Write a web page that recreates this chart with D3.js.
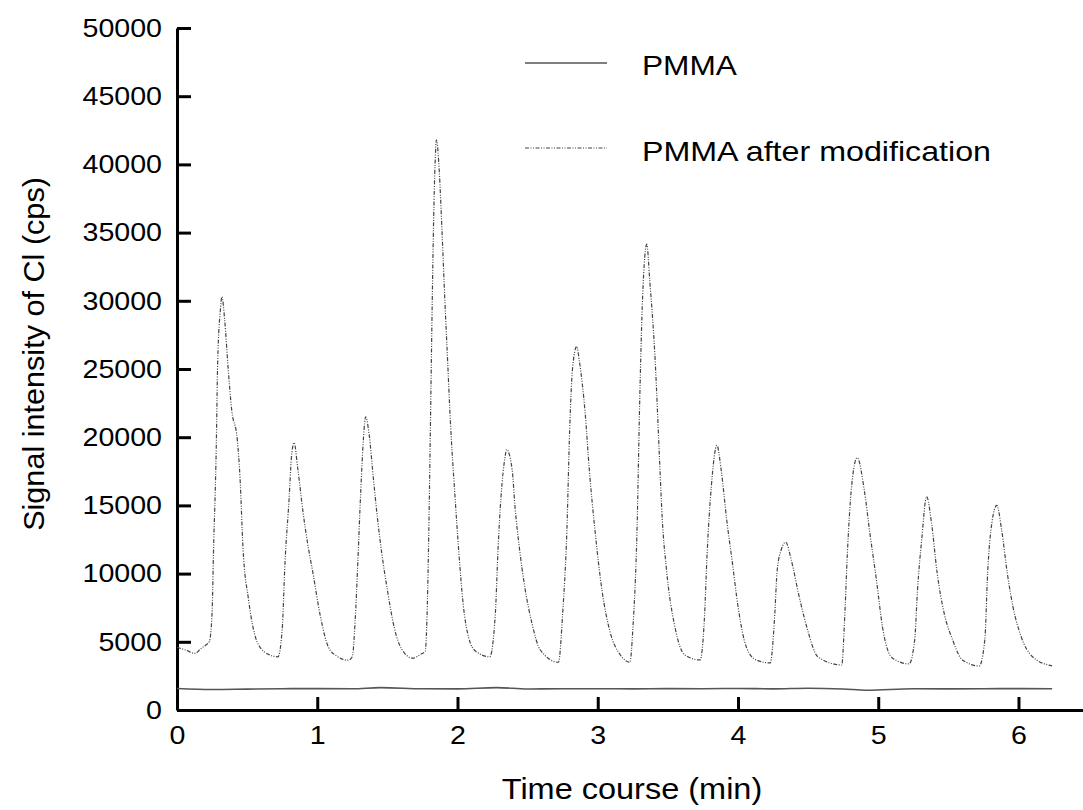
<!DOCTYPE html>
<html>
<head>
<meta charset="utf-8">
<script src="https://cdn.jsdelivr.net/npm/d3@7"></script>
<style>
  body { margin: 0; background: #fff; }
  text { font-family: "Liberation Sans", Arial, sans-serif; fill: #000; }
</style>
</head>
<body>
<div id="chart"></div>
<script>
var width = 1083;
var height = 810;

// PMMA (plain) - flat baseline
var pmmaTime = [0, 0.25, 0.5, 0.75, 1, 1.25, 1.45, 1.75, 2, 2.28, 2.5, 2.75, 3, 3.25, 3.5, 3.75, 4, 4.25, 4.5, 4.75, 4.92, 5.25, 5.5, 5.75, 6, 6.24];
var pmmaSignal = [1580, 1500, 1530, 1560, 1570, 1560, 1640, 1560, 1550, 1640, 1540, 1560, 1560, 1550, 1570, 1560, 1580, 1550, 1600, 1540, 1450, 1560, 1550, 1560, 1570, 1560];

// PMMA after modification
var modTime = [0, 0.06, 0.13, 0.17, 0.21, 0.23, 0.25, 0.26, 0.28, 0.29, 0.31, 0.32, 0.34, 0.365, 0.39, 0.43, 0.45, 0.47, 0.51, 0.58, 0.66, 0.72,
  0.75, 0.77, 0.8, 0.815, 0.835, 0.86, 0.9, 0.93, 0.97, 1.02, 1.08, 1.14, 1.22,
  1.25, 1.27, 1.29, 1.31, 1.33, 1.345, 1.37, 1.4, 1.43, 1.46, 1.5, 1.55, 1.6, 1.68,
  1.74, 1.77, 1.78, 1.79, 1.8, 1.81, 1.82, 1.83, 1.84, 1.85, 1.87, 1.89, 1.91, 1.93, 1.95, 1.98, 2.01, 2.04, 2.08, 2.13, 2.23,
  2.27, 2.29, 2.31, 2.34, 2.35, 2.39, 2.41, 2.44, 2.48, 2.53, 2.59, 2.72,
  2.75, 2.78, 2.8, 2.82, 2.85, 2.87, 2.91, 2.94, 2.98, 3.03, 3.09, 3.16, 3.23,
  3.25, 3.28, 3.3, 3.32, 3.35, 3.37, 3.41, 3.44, 3.46, 3.49, 3.55, 3.62, 3.73,
  3.76, 3.78, 3.81, 3.85, 3.88, 3.92, 3.96, 4, 4.06, 4.13, 4.23,
  4.26, 4.28, 4.31, 4.34, 4.38, 4.43, 4.49, 4.57, 4.74,
  4.76, 4.78, 4.81, 4.85, 4.9, 4.94, 4.99, 5.03, 5.1, 5.22,
  5.26, 5.28, 5.31, 5.345, 5.38, 5.42, 5.47, 5.53, 5.6, 5.72,
  5.76, 5.78, 5.81, 5.845, 5.88, 5.92, 5.96, 6.02, 6.1, 6.24];
var modSignal = [4600, 4400, 4150, 4500, 4800, 5000, 7100, 11500, 19300, 25500, 29400, 30300, 28600, 25000, 22000, 19800, 16900, 12000, 8100, 4800, 4040, 3900,
  5900, 10800, 15600, 18400, 19600, 17800, 14400, 12300, 10000, 7000, 4600, 3950, 3650,
  3900, 6500, 11000, 16000, 20000, 21500, 20200, 17000, 14000, 11500, 8800, 6000, 4500, 3800,
  4100, 4300, 6000, 10000, 16000, 23000, 30000, 36000, 40000, 41800, 39500, 35000, 30000, 25500, 21000, 16000, 11500, 7800, 5300, 4300, 3900,
  7100, 12000, 15600, 18600, 19100, 17600, 14900, 12000, 9000, 6400, 4400, 3500,
  7100, 13200, 20600, 25000, 26650, 25500, 21800, 17600, 13200, 8800, 5650, 4050, 3500,
  5900, 13200, 23000, 30300, 34150, 31600, 25500, 18500, 14000, 10300, 6100, 4040, 3670,
  6600, 11500, 16400, 19400, 17600, 13900, 10800, 7600, 4600, 3670, 3450,
  6600, 10300, 11800, 12300, 11000, 8600, 6100, 3900, 3300,
  6600, 11500, 16400, 18500, 16150, 13000, 9300, 6100, 3820, 3380,
  5150, 8800, 12500, 15650, 13700, 10050, 7100, 5150, 3670, 3230,
  5150, 10050, 13700, 15000, 13200, 10050, 7600, 5350, 3900, 3230];

var xTicks = [0, 1, 2, 3, 4, 5, 6];
var yTicks = [0, 5000, 10000, 15000, 20000, 25000, 30000, 35000, 40000, 45000, 50000];
var seriesNames = ["PMMA", "PMMA after modification"];

var svg = d3.select("#chart")
  .append("svg")
  .attr("width", width)
  .attr("height", height);

// the original lettering is a bit wider than Liberation Sans
function widen(sel, k) {
  sel.each(function() {
    var w = this.getComputedTextLength();
    d3.select(this).attr("textLength", w * k).attr("lengthAdjust", "spacingAndGlyphs");
  });
}

var x = d3.scaleLinear().domain([0, 6.46]).range([177, 1083]);
var y = d3.scaleLinear().domain([0, 50000]).range([710, 28]);

// axes, ticks pointing inward
var xAxis = svg.append("g")
  .attr("transform", "translate(0,710)")
  .call(d3.axisBottom(x).tickValues(xTicks).tickSize(-13).tickSizeOuter(0).tickPadding(16).tickFormat(d3.format("d")));
var yAxis = svg.append("g")
  .attr("transform", "translate(177,0)")
  .call(d3.axisLeft(y).tickValues(yTicks).tickSize(-14).tickSizeOuter(0).tickPadding(15).tickFormat(d3.format("d")));

[xAxis, yAxis].forEach(function(a) {
  a.select(".domain").attr("stroke", "#000").attr("stroke-width", 3);
  a.selectAll(".tick line").attr("stroke", "#000").attr("stroke-width", 3);
  a.selectAll(".tick text").style("font-size", "26px").style("font-family", "Liberation Sans, Arial, sans-serif").attr("fill", "#000");
  widen(a.selectAll(".tick text"), 1.1);
});

var line = d3.line()
  .x(function(d) { return x(d[0]); })
  .y(function(d) { return y(d[1]); })
  .curve(d3.curveMonotoneX);

var pmmaData = pmmaTime.map(function(t, i) { return [t, pmmaSignal[i]]; });
var modData = modTime.map(function(t, i) { return [t, modSignal[i]]; });

svg.append("path")
  .datum(pmmaData)
  .attr("d", line)
  .attr("fill", "none")
  .attr("stroke", "#555")
  .attr("stroke-width", 1.6);

svg.append("path")
  .datum(modData)
  .attr("d", line)
  .attr("fill", "none")
  .attr("stroke", "#444")
  .attr("stroke-width", 1.2)
  .attr("stroke-dasharray", "4,1.5,1,1.5,1,1.5");

// legend
svg.append("line")
  .attr("x1", 525).attr("y1", 63).attr("x2", 607).attr("y2", 63)
  .attr("stroke", "#555").attr("stroke-width", 1.6);
svg.append("text")
  .text(seriesNames[0])
  .attr("x", 642).attr("y", 75)
  .style("font-size", "28px")
  .call(widen, 1.13);
svg.append("line")
  .attr("x1", 525).attr("y1", 148).attr("x2", 607).attr("y2", 148)
  .attr("stroke", "#444").attr("stroke-width", 1.2)
  .attr("stroke-dasharray", "4,1.5,1,1.5,1,1.5");
svg.append("text")
  .text(seriesNames[1])
  .attr("x", 642).attr("y", 161)
  .style("font-size", "28px")
  .call(widen, 1.15);

// axis titles
svg.append("text")
  .text("Time course (min)")
  .attr("x", 632).attr("y", 799)
  .attr("text-anchor", "middle")
  .style("font-size", "29px")
  .call(widen, 1.12);
svg.append("text")
  .text("Signal intensity of Cl (cps)")
  .attr("transform", "translate(44,354) rotate(-90)")
  .attr("text-anchor", "middle")
  .style("font-size", "30px")
  .call(widen, 1.02);
</script>
</body>
</html>
